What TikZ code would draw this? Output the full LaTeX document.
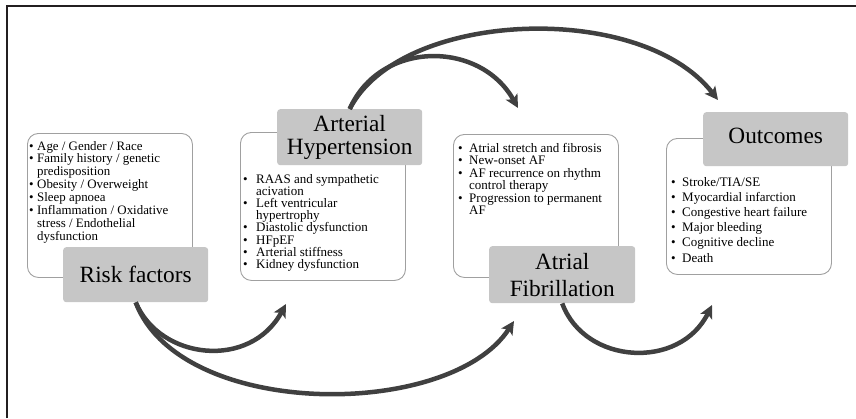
\documentclass[tikz,border=0pt]{standalone}
\usepackage{fontspec}
\setmainfont{Liberation Serif}
\usetikzlibrary{arrows.meta}
\definecolor{arrowgray}{HTML}{404040}
\definecolor{boxgray}{HTML}{C6C6C6}
\definecolor{edgegray}{HTML}{A0A0A0}
\definecolor{framecol}{HTML}{231F20}
\newcommand{\bul}[1]{\makebox[#1pt][l]{•}}
\newcommand{\ind}[1]{\hspace*{#1pt}}
\begin{document}
\begin{tikzpicture}[x=1pt,y=-1pt,
  listbox/.style={draw=edgegray, line width=0.9pt, fill=white, rounded corners=11pt, inner sep=0pt, anchor=north west},
  titlebox/.style={fill=boxgray, rounded corners=3pt, inner sep=0pt, anchor=north west, align=center, font=\fontsize{23.3}{23}\selectfont},
  listtext/.style={inner sep=0pt, anchor=base west, align=left},
  flow/.style={draw=arrowgray, line width=4.5pt, -{Stealth[length=13pt,width=13pt,inset=3pt]}}]
\useasboundingbox (0,0) rectangle (856,418);
% frame
\draw[framecol, line width=2.4pt] (7,418) -- (7,6) -- (856,6);
% list boxes
\node[listbox, minimum width=165pt, minimum height=144pt] (rl) at (27,133) {};
\node[listbox, minimum width=165pt, minimum height=148pt] (ahl) at (240,132) {};
\node[listbox, minimum width=165pt, minimum height=143pt] (afl) at (453,134) {};
\node[listbox, minimum width=165pt, minimum height=136pt] (oul) at (666,138) {};
% list texts (anchored at the baseline of the last line)
\node[listtext, font=\fontsize{12.9}{12.9}\selectfont] (rlt) at (29,240.3) {%
\bul{8}Age / Gender / Race\\
\bul{8}Family history / genetic\\
\ind{8}predisposition\\
\bul{8}Obesity / Overweight\\
\bul{8}Sleep apnoea\\
\bul{8}Inflammation / Oxidative\\
\ind{8}stress / Endothelial\\
\ind{8}dysfunction};
\node[listtext, font=\fontsize{13}{12.2}\selectfont] (ahlt) at (243,268.4) {%
\bul{13}RAAS and sympathetic\\
\ind{13}acivation\\
\bul{13}Left ventricular\\
\ind{13}hypertrophy\\
\bul{13}Diastolic dysfunction\\
\bul{13}HFpEF\\
\bul{13}Arterial stiffness\\
\bul{13}Kidney dysfunction};
\node[listtext, font=\fontsize{13}{12.5}\selectfont] (aflt) at (458,214.5) {%
\bul{11}Atrial stretch and fibrosis\\
\bul{11}New-onset AF\\
\bul{11}AF recurrence on rhythm\\
\ind{11}control therapy\\
\bul{11}Progression to permanent\\
\ind{11}AF};
\node[listtext, font=\fontsize{13}{15.2}\selectfont] (oult) at (671,262) {%
\bul{11}Stroke/TIA/SE\\
\bul{11}Myocardial infarction\\
\bul{11}Congestive heart failure\\
\bul{11}Major bleeding\\
\bul{11}Cognitive decline\\
\bul{11}Death};
% title boxes
\node[titlebox, minimum width=145pt, minimum height=55pt] (rf) at (63,247) {Risk factors};
\node[titlebox, minimum width=145pt, minimum height=56pt, font=\fontsize{23.3}{22.5}\selectfont] (ah) at (277,109) {Arterial\\Hypertension};
\node[titlebox, minimum width=146pt, minimum height=57pt, font=\fontsize{23.3}{27}\selectfont] (af) at (489,246) {\raisebox{-3pt}{Atrial}\\\raisebox{-3pt}{Fibrillation}};
\node[titlebox, minimum width=145pt, minimum height=54pt] (ou) at (703,112) {\raisebox{6pt}{Outcomes}};
% arrow ends
\coordinate (t1) at (718,100);
\coordinate (t2) at (518,108);
\coordinate (t3) at (286,304);
\coordinate (t4) at (514,321);
\coordinate (t5) at (712,305);
% arrows
\draw[flow] (ah.north) .. controls (400,10) and (640,0) .. (t1);
\draw[flow] (ah.north) .. controls (380,40) and (480,40) .. (t2);
\draw[flow] (rf.south) .. controls (160,360) and (250,370) .. (t3);
\draw[flow] (rf.south) .. controls (180,420) and (450,420) .. (t4);
\draw[flow] (af.south) .. controls (585,365) and (680,370) .. (t5);
\end{tikzpicture}
\end{document}
